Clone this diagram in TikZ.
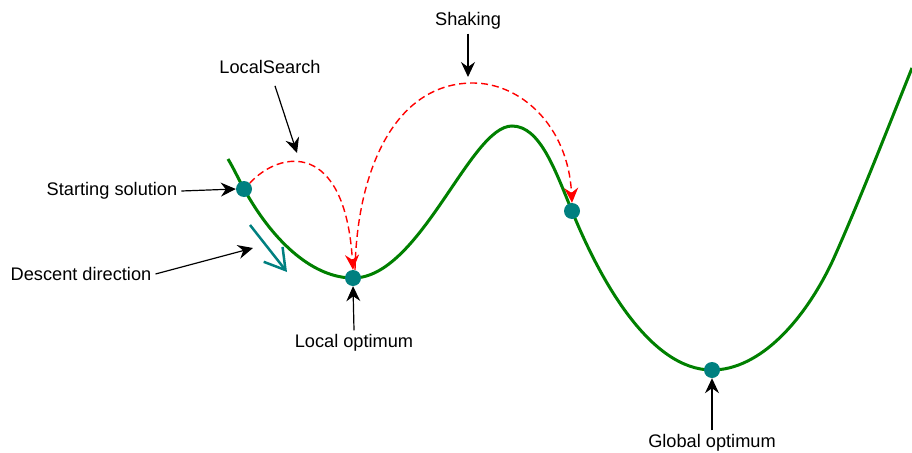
\documentclass[tikz,border=0pt]{standalone}
\usepackage{fontspec}
\setmainfont{Liberation Sans}
\usetikzlibrary{arrows.meta}
\definecolor{tealc}{RGB}{0,128,128}
\definecolor{greenc}{RGB}{0,128,0}
\begin{document}
\begin{tikzpicture}[x=1pt,y=-1pt,
  lbl/.style={font=\fontsize{18.2}{21}\selectfont, inner sep=4pt},
  dot/.style={circle, fill=tealc, minimum size=16pt, inner sep=0pt},
  pointer/.style={draw=black, line width=1.2pt, -{Stealth[length=15pt,width=14pt,inset=5pt]}},
  jump/.style={draw=red, line width=1.4pt, dash pattern=on 7pt off 4pt, -{Stealth[length=15pt,width=14pt,inset=5pt]}},
  landscape/.style={draw=greenc, line width=3pt},
  descent/.style={draw=tealc, line width=2.5pt, -{Straight Barb[length=20pt,width=24pt]}}
]
\useasboundingbox (0,0) rectangle (912,452);
\coordinate (c0) at (228,159);
\coordinate (cs) at (244,189);
\coordinate (clo) at (353,278);
\coordinate (cpk) at (512,126);
\coordinate (csh) at (572,211);
\coordinate (cgo) at (712,370);
\coordinate (cr) at (833,260);
\coordinate (cend) at (912,68);
\draw[landscape] (c0) .. controls (234,169) and (239,180) .. (cs)
  .. controls (275,245) and (315,278) .. (clo)
  .. controls (420,278) and (470,126) .. (cpk)
  .. controls (540,126) and (555,170) .. (csh)
  .. controls (600,280) and (650,370) .. (cgo)
  .. controls (760,370) and (805,320) .. (cr)
  .. controls (860,200) and (895,110) .. (cend);

\node[dot] (s) at (cs) {};
\node[dot] (lo) at (clo) {};
\node[dot] (sh) at (csh) {};
\node[dot] (go) at (cgo) {};

\node[lbl] (startlbl) at (112,191) {Starting solution};
\node[lbl] (desclbl) at (81,274) {Descent direction};
\node[lbl] (lslbl) at (270,67) {LocalSearch};
\node[lbl] (shlbl) at (468,21) {Shaking};
\node[lbl] (lolbl) at (354,343) {Local optimum};
\node[lbl] (golbl) at (712,443) {Global optimum};

\coordinate (dtip) at (253,248);
\coordinate (lstip) at (297,153);
\coordinate (shtip) at (468,77);
\coordinate (da) at (250,225);
\coordinate (db) at (287,272);

\draw[jump] (s.north east) .. controls (280,150) and (345,140) .. (lo.north);
\draw[jump] ([xshift=2pt]lo.north) .. controls (357,170) and (395,83) .. (473,83)
  .. controls (520,83) and (568,125) .. (sh.north);

\draw[pointer] (startlbl.east) -- (s.west);
\draw[pointer] (desclbl.east) -- (dtip);
\draw[pointer] ([shift={(5,8)}]lslbl.south) -- (lstip);
\draw[pointer] (shlbl.south) -- (shtip);
\draw[pointer] (lolbl.north) -- (lo.south);
\draw[pointer] (golbl.north) -- (go.south);

\draw[descent] (da) -- (db);
\end{tikzpicture}
\end{document}
